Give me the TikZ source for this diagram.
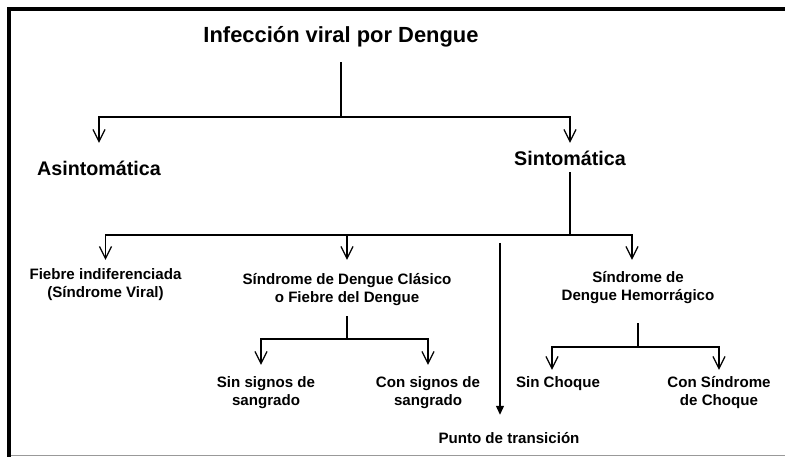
\documentclass[tikz,border=0pt]{standalone}
\usepackage{fontspec}
\setmainfont{Liberation Sans}
\usetikzlibrary{arrows.meta}
\newcommand{\twolines}[2]{\begin{tabular}[t]{@{}c@{}}#1\\#2\end{tabular}}
\begin{document}
\begin{tikzpicture}[x=1pt,y=-1pt,
  conn/.style={line width=1.2pt},
  arr/.style={conn,-{Straight Barb[length=12pt,width=12pt,line width=1.2pt]}},
  tarr/.style={conn,-{Triangle[length=9pt,width=8pt]}},
  lvlzero/.style={font=\fontsize{21.9}{26}\selectfont\bfseries, inner sep=0pt, anchor=base},
  lvlone/.style={font=\fontsize{19.7}{23}\selectfont\bfseries, inner sep=0pt, anchor=base},
  lvltwo/.style={font=\fontsize{15.1}{18}\selectfont\bfseries, inner sep=0pt, anchor=base}]
\useasboundingbox (0,0) rectangle (785,457);
% frame
\fill[black] (7,7) rectangle (785,11);
\fill[black] (7,7) rectangle (11,457);
\draw[black!40, line width=1.5pt] (11,455.7) -- (785,455.7);
% nodes
\node[lvlzero, text height=16pt, text depth=19pt] (title) at (341,43) {Infección viral por Dengue};
\node[lvlone, text height=33pt, text depth=4pt] (asin) at (99,176) {Asintomática};
\node[lvlone, text height=23pt, text depth=6pt] (sint) at (570,166) {Sintomática};
\node[lvltwo, text height=19.5pt, text depth=21.5pt] (fiebre) at (105.5,279.5) {\twolines{Fiebre indiferenciada}{(Síndrome Viral)}};
\node[lvltwo, text height=24pt, text depth=32pt] (sdc) at (347,284) {\twolines{Síndrome de Dengue Clásico}{o Fiebre del Dengue}};
\node[lvltwo, text height=23pt, text depth=40pt] (sdh) at (638,283) {\twolines{Síndrome de}{Dengue Hemorrágico}};
\node[lvltwo, text height=22pt, text depth=21.5pt] (sinsig) at (266,387) {\twolines{Sin signos de}{sangrado}};
\node[lvltwo, text height=22pt, text depth=21.5pt] (consig) at (428,387) {\twolines{Con signos de}{sangrado}};
\node[lvltwo, text height=17pt, text depth=4pt] (sinch) at (558,387) {Sin Choque};
\node[lvltwo, text height=17pt, text depth=21.5pt] (conch) at (719,387) {\twolines{Con Síndrome}{de Choque}};
\node[lvltwo, text height=28pt, text depth=4pt] (punto) at (509,443) {Punto de transición};
% junctions
\coordinate (j0) at (341,117);
\coordinate (j1) at (570,235);
\coordinate (j2) at (347,339);
\coordinate (j3) at (638,347);
\coordinate (tp) at (500,243);
% connectors
\draw[conn] (title) -- (j0);
\draw[arr] (j0) -| (asin);
\draw[arr] (j0) -| (sint);
\draw[conn] (sint) -- (j1);
\draw[arr] (j1) -| (fiebre);
\draw[arr] (j1) -| (sdc);
\draw[arr] (j1) -| ([xshift=-6pt]sdh.north);
\draw[conn] (sdc) -- (j2);
\draw[arr] (j2) -| ([xshift=-5pt]sinsig.north);
\draw[arr] (j2) -| (consig);
\draw[conn] (sdh) -- (j3);
\draw[arr] (j3) -| ([xshift=-6pt]sinch.north);
\draw[arr] (j3) -| (conch);
\draw[tarr] (tp) -- ([xshift=-9pt]punto.north);
\end{tikzpicture}
\end{document}
